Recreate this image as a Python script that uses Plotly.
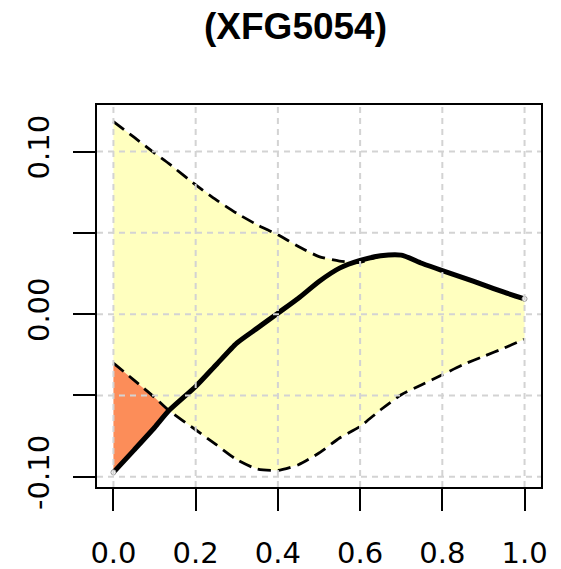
import plotly.graph_objects as go

# ---- data ----
x_vals = [0.0, 0.05, 0.1, 0.135, 0.2, 0.25, 0.3, 0.35, 0.4, 0.45, 0.5, 0.55,
          0.6, 0.65, 0.7, 0.75, 0.8, 0.85, 0.9, 0.95, 1.0]
curve = [-0.0973, -0.0836, -0.0697, -0.0593, -0.0445, -0.0311, -0.0178, -0.0086,
         0.0006, 0.0098, 0.0201, 0.0283, 0.0330, 0.0359, 0.0363, 0.0313, 0.0268,
         0.0225, 0.0180, 0.0135, 0.0094]
upper = [0.1184, 0.1088, 0.0990, 0.0925, 0.0795, 0.0703, 0.0620, 0.0549, 0.0488,
         0.0416, 0.0354, 0.0326, 0.0318, 0.0359, 0.0363, 0.0313, 0.0268, 0.0225,
         0.0180, 0.0135, 0.0094]
lower = [-0.0301, -0.0406, -0.0512, -0.0593, -0.0711, -0.0803, -0.0895, -0.0953,
         -0.0961, -0.0926, -0.0854, -0.0762, -0.0690, -0.0588, -0.0496, -0.0434,
         -0.0373, -0.0311, -0.0260, -0.0209, -0.0154]

x_ticks = [0.0, 0.2, 0.4, 0.6, 0.8, 1.0]
x_tick_labels = ["0.0", "0.2", "0.4", "0.6", "0.8", "1.0"]
y_ticks = [-0.10, -0.05, 0.0, 0.05, 0.10]
y_tick_labels = ["-0.10", "", "0.00", "", "0.10"]
title_text = "(XFG5054)"

YELLOW = "#FFFFBF"
ORANGE = "#FC8D59"

fig = go.Figure()

# yellow band between upper and lower dashed curves
fig.add_trace(go.Scatter(
    x=x_vals + x_vals[::-1], y=upper + lower[::-1],
    fill="toself", fillcolor=YELLOW, line=dict(width=0), mode="lines",
    hoverinfo="skip", showlegend=False))

# orange region where the curve lies below the lower bound
idx = [i for i in range(len(x_vals)) if curve[i] <= lower[i]]
ox = [x_vals[i] for i in idx]
fig.add_trace(go.Scatter(
    x=ox + ox[::-1], y=[lower[i] for i in idx] + [curve[i] for i in idx][::-1],
    fill="toself", fillcolor=ORANGE, line=dict(width=0), mode="lines",
    hoverinfo="skip", showlegend=False))

# dashed bounds
for yy in (upper, lower):
    fig.add_trace(go.Scatter(
        x=x_vals, y=yy, mode="lines",
        line=dict(color="black", width=2.8, dash="13px,7px", shape="spline", smoothing=0.6),
        hoverinfo="skip", showlegend=False))

# main curve
fig.add_trace(go.Scatter(
    x=x_vals, y=curve, mode="lines",
    line=dict(color="black", width=5, shape="spline", smoothing=0.6),
    hoverinfo="skip", showlegend=False))
fig.add_trace(go.Scatter(
    x=[x_vals[0], x_vals[-1]], y=[curve[0], curve[-1]], mode="markers",
    marker=dict(size=5, color="white", line=dict(color="#999999", width=1)),
    hoverinfo="skip", showlegend=False))

# grid drawn on top (as in the reference)
grid_style = dict(color="#D3D3D3", width=2, dash="6px,5px")
shapes = []
for xv in x_ticks:
    shapes.append(dict(type="line", xref="x", yref="y domain", x0=xv, x1=xv,
                       y0=0, y1=1, line=grid_style, layer="above"))
for yv in y_ticks:
    shapes.append(dict(type="line", xref="x domain", yref="y", x0=0, x1=1,
                       y0=yv, y1=yv, line=grid_style, layer="above"))

tick_font = dict(family="DejaVu Sans, sans-serif", size=29, color="black")

fig.update_layout(
    width=561, height=569,
    margin=dict(l=97, r=20, t=105, b=82, autoexpand=False),
    paper_bgcolor="white", plot_bgcolor="white",
    shapes=shapes,
    annotations=[dict(text="<b>" + title_text + "</b>", xref="paper", yref="paper",
                      x=0.448, y=1, yshift=79, showarrow=False,
                      font=dict(family="Liberation Sans, Arial, sans-serif", size=37,
                                color="black"),
                      xanchor="center", yanchor="middle")],
    xaxis=dict(range=[-0.04, 1.04], tickvals=x_ticks, ticktext=x_tick_labels,
               showgrid=False, zeroline=False, showline=True, mirror=True,
               linecolor="black", linewidth=2, ticks="outside", ticklen=22,
               tickwidth=2, tickcolor="black", tickfont=tick_font,
               ticklabelstandoff=17, automargin=False),
    yaxis=dict(range=[-0.1063, 0.1286], tickvals=y_ticks, ticktext=y_tick_labels,
               showgrid=False, zeroline=False, showline=True, mirror=True,
               linecolor="black", linewidth=2, ticks="outside", ticklen=22,
               tickwidth=2, tickcolor="black", tickfont=tick_font, tickangle=-90,
               ticklabelstandoff=12, automargin=False),
)

fig.write_html("out.html", config={"displayModeBar": False},
               post_script="document.body.style.margin='0px';")
